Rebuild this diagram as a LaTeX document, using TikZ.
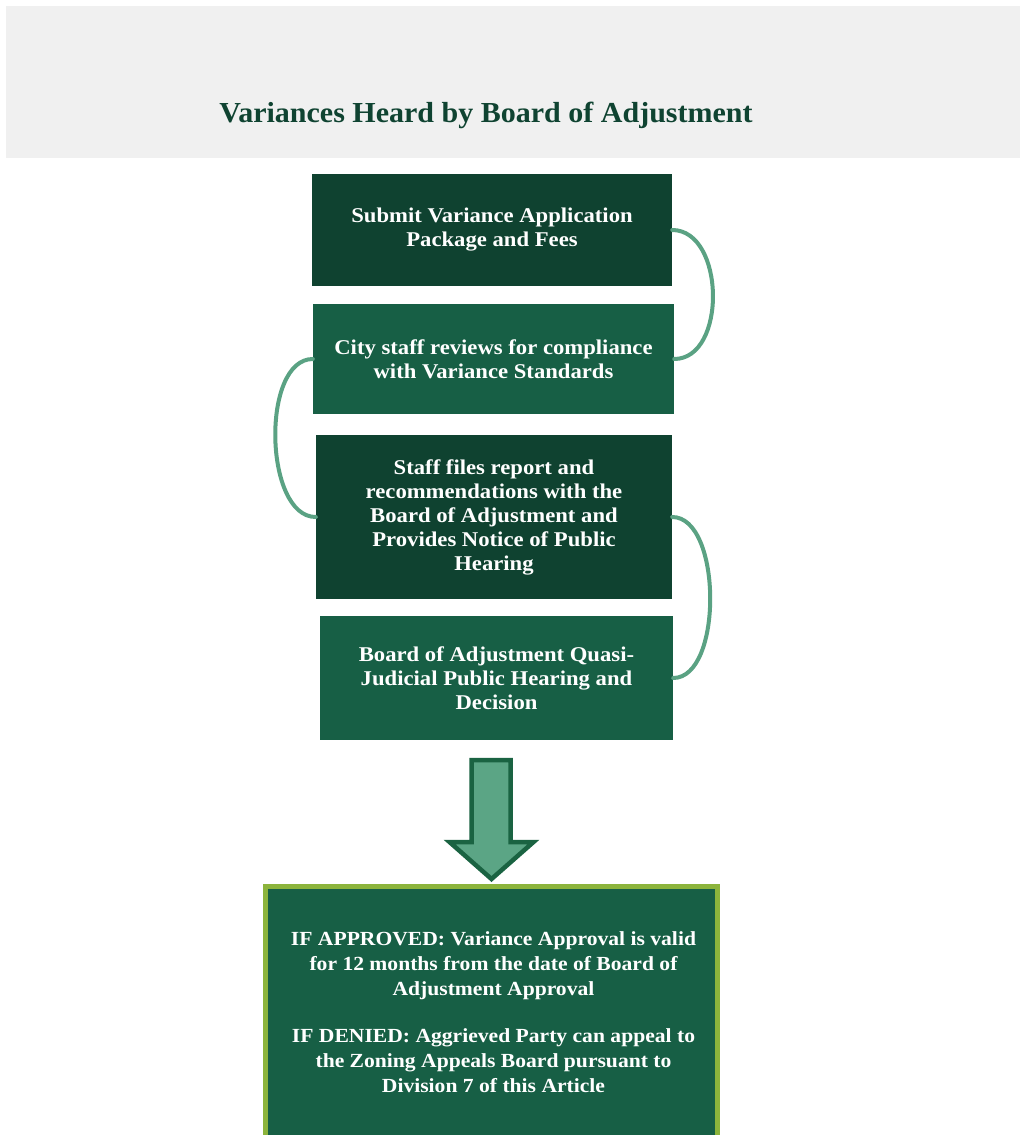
\documentclass[tikz,border=0pt]{standalone}
\usepackage{fontspec}
\usepackage{graphicx}
\setmainfont{Liberation Serif}
\newfontfamily\widebold{Liberation Serif}[FakeStretch=1.08]
\definecolor{headergray}{HTML}{F0F0F0}
\definecolor{titlegreen}{HTML}{0F4331}
\definecolor{darkbox}{HTML}{0F4230}
\definecolor{midbox}{HTML}{175F45}
\definecolor{linkgreen}{HTML}{5AA283}
\definecolor{arrowfill}{HTML}{5BA585}
\definecolor{arrowedge}{HTML}{1A6342}
\definecolor{olive}{HTML}{8CB43C}
\begin{document}
\begin{tikzpicture}[x=1pt,y=-1pt,
  boxtext/.style={text=white, align=center, inner sep=0pt,
    font=\widebold\bfseries\fontsize{21}{24}\selectfont},
  stepbox/.style={boxtext, draw=none},
  link/.style={draw=linkgreen, line width=4pt, line cap=round}]
\useasboundingbox (0,0) rectangle (1020,1135);
\clip (0,0) rectangle (1020,1135);

% header band and title
\fill[headergray] (6,6) rectangle (1020,158);
\node[anchor=base, text=titlegreen, inner sep=0pt,
  font=\bfseries\fontsize{29}{34}\selectfont] (title) at (486,122)
  {\scalebox{1.035}[1]{Variances Heard by Board of Adjustment}};

% process steps
\node[stepbox, fill=darkbox, minimum width=360pt, minimum height=112pt] (b1) at (492,230)
  {Submit Variance Application\\Package and Fees};
\node[stepbox, fill=midbox, minimum width=361pt, minimum height=110pt] (b2) at (493.5,359)
  {City staff reviews for compliance\\with Variance Standards};
\node[stepbox, fill=darkbox, minimum width=356pt, minimum height=164pt] (b3) at (494,517)
  {Staff files report and\\recommendations with the\\Board of Adjustment and\\Provides Notice of Public\\Hearing};
\node[stepbox, fill=midbox, minimum width=353pt, minimum height=124pt] (b4) at (496.5,678)
  {Board of Adjustment Quasi-\\Judicial Public Hearing and\\Decision};

% curved links between steps
\draw[link] (b1.east) .. controls +(53,0) and +(53,0) .. (b2.east);
\draw[link] (b2.west) .. controls +(-52,0) and +(-52,0) .. (b3.west);
\draw[link] (b3.east) .. controls +(50,0) and +(50,0) .. (b4.east);

% outcome box
\node[draw=olive, line width=5pt, fill=midbox, minimum width=452pt,
  minimum height=300pt, anchor=north] (res) at (491.5,883.5) {};
\node[boxtext, font=\widebold\bfseries\fontsize{20}{25}\selectfont] (restext) at (493.5,1012)
  {IF APPROVED: Variance Approval is valid\\for 12 months from the date of Board of\\Adjustment Approval\\[22pt]
   IF DENIED: Aggrieved Party can appeal to\\the Zoning Appeals Board pursuant to\\Division 7 of this Article};

% block arrow from the hearing to the outcome
\draw[fill=arrowfill, draw=arrowedge, line width=4.5pt, line join=miter]
  (471.5,760) -- (510.5,760) -- (510.5,842) -- (533.5,842) -- (491.5,879)
  -- (449.5,842) -- (471.5,842) -- cycle;
\end{tikzpicture}
\end{document}
